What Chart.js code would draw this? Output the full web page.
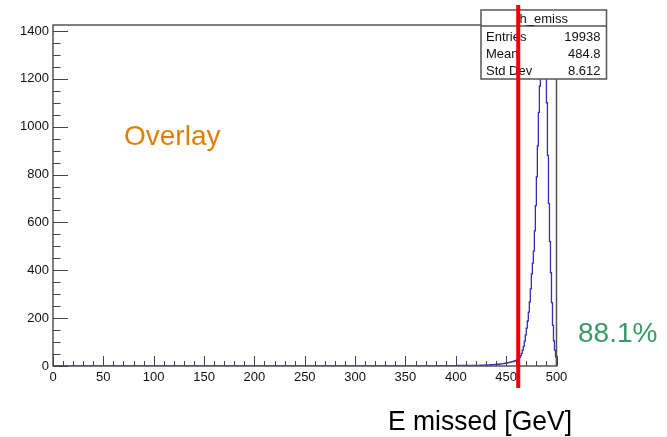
<!DOCTYPE html>
<html>
<head>
<meta charset="utf-8">
<script src="https://cdn.jsdelivr.net/npm/chart.js@4/dist/chart.umd.min.js"></script>
<style>
  html, body { margin: 0; padding: 0; background: #ffffff; }
  canvas { display: block; }
</style>
</head>
<body>
<canvas id="c" width="667" height="437"></canvas>
<script>
// h_emiss: missing energy histogram, 1 GeV bins from 0 to 500 GeV
const X_MIN = 0;
const X_MAX = 500;
const BIN_WIDTH = 1;
const Y_MIN = 0;
const Y_MAX = 1425;

const xTickValues = [0, 50, 100, 150, 200, 250, 300, 350, 400, 450, 500];
const yTickValues = [0, 200, 400, 600, 800, 1000, 1200, 1400];
const X_MINOR_STEP = 10;
const Y_MINOR_STEP = 50;

// Bins below this edge are empty
const FIRST_FILLED_BIN = 380;
// Counts of bins 380 ... 499
const binCounts = [
  0, 1, 0, 0, 1, 0, 1, 0, 0, 1, 1, 0, 1, 0, 1, 1, 0, 1, 1, 1,
  1, 1, 2, 1, 1, 2, 1, 2, 1, 2, 2, 1, 2, 2, 3, 2, 2, 3, 2, 3,
  3, 3, 2, 3, 4, 3, 4, 3, 4, 4, 5, 4, 5, 5, 4, 6, 5, 6, 6, 7,
  7, 8, 7, 8, 9, 9, 10, 10, 11, 12, 12, 13, 14, 15, 16, 17, 18, 19, 21, 22,
  24, 27, 31, 36, 43, 53, 66, 82, 104, 130,
  158, 188, 225, 268, 322, 385, 430, 480, 565, 670,
  790, 920, 1060, 1170, 1250, 1310, 1345, 1357, 1325, 1240,
  1100, 880, 680, 520, 390, 265, 170, 105, 66, 38
];

// Selection cut on the missing energy
const cutValue = 462;

const histName = 'h_emiss';
const statsLabels = ['Entries', 'Mean', 'Std Dev'];
const statsValues = ['19938', '484.8', '8.612'];
const overlayLabel = 'Overlay';
const efficiencyLabel = '88.1%';
const axisTitle = 'E missed [GeV]';

const FONT = '"Liberation Sans", Arial, Helvetica, sans-serif';

// Histogram outline points at the low edge of every bin, closed at the upper edge
const histPoints = [];
for (let b = X_MIN; b < X_MAX; b += BIN_WIDTH) {
  const idx = Math.round((b - FIRST_FILLED_BIN) / BIN_WIDTH);
  histPoints.push({ x: b, y: idx >= 0 ? binCounts[idx] : 0 });
}
histPoints.push({ x: X_MAX, y: 0 });

// ROOT-like frame, inward ticks, stats box, cut line and labels
const rootDecor = {
  id: 'rootDecor',
  afterDraw(chart) {
    const ctx = chart.ctx;
    const a = chart.chartArea;
    const xs = chart.scales.x;
    const ys = chart.scales.y;

    ctx.save();
    // frame
    ctx.strokeStyle = '#555555';
    ctx.lineWidth = 1.5;
    ctx.beginPath();
    ctx.rect(a.left, a.top, a.right - a.left, a.bottom - a.top);
    ctx.stroke();

    // x ticks (pointing up)
    ctx.lineWidth = 1;
    ctx.strokeStyle = '#444444';
    ctx.beginPath();
    for (let v = X_MIN; v <= X_MAX; v += X_MINOR_STEP) {
      const px = Math.round(xs.getPixelForValue(v)) + 0.5;
      const len = xTickValues.includes(v) ? 10 : 5;
      ctx.moveTo(px, a.bottom);
      ctx.lineTo(px, a.bottom - len);
    }
    // y ticks (pointing right)
    for (let v = Y_MIN; v <= Y_MAX; v += Y_MINOR_STEP) {
      const py = Math.round(ys.getPixelForValue(v)) + 0.5;
      const len = yTickValues.includes(v) ? 15 : 7.5;
      ctx.moveTo(a.left, py);
      ctx.lineTo(a.left + len, py);
    }
    ctx.stroke();

    // stats box
    const bx = a.right - 75.5, by = a.top - 15, bw = 125.5, bh = 69;
    ctx.fillStyle = '#ffffff';
    ctx.fillRect(bx, by, bw, bh);
    ctx.strokeStyle = '#555555';
    ctx.lineWidth = 1.5;
    ctx.strokeRect(bx, by, bw, bh);
    ctx.beginPath();
    ctx.moveTo(bx, by + 16);
    ctx.lineTo(bx + bw, by + 16);
    ctx.stroke();

    ctx.fillStyle = '#111111';
    ctx.font = '13px ' + FONT;
    ctx.textBaseline = 'alphabetic';
    ctx.textAlign = 'center';
    ctx.fillText(histName, bx + bw / 2, by + 13);
    for (let i = 0; i < statsLabels.length; i++) {
      const yy = by + 31 + i * 17;
      ctx.textAlign = 'left';
      ctx.fillText(statsLabels[i], bx + 5, yy);
      ctx.textAlign = 'right';
      ctx.fillText(statsValues[i], bx + bw - 6, yy);
    }

    // cut line
    const cx = xs.getPixelForValue(cutValue);
    ctx.strokeStyle = '#f20000';
    ctx.lineWidth = 4;
    ctx.beginPath();
    ctx.moveTo(cx, a.top - 20);
    ctx.lineTo(cx, a.bottom + 22);
    ctx.stroke();

    // labels
    ctx.font = '28px ' + FONT;
    ctx.textAlign = 'left';
    ctx.fillStyle = '#e08000';
    ctx.fillText(overlayLabel, 124, 145);
    ctx.fillStyle = '#3a9a66';
    ctx.fillText(efficiencyLabel, 578, 342);

    // axis title, slightly condensed
    ctx.fillStyle = '#000000';
    const w = ctx.measureText(axisTitle).width;
    const targetW = 184;
    ctx.translate(388, 430);
    ctx.scale(targetW / w, 1);
    ctx.fillText(axisTitle, 0, 0);
    ctx.restore();
  }
};

new Chart(document.getElementById('c'), {
  type: 'line',
  data: {
    datasets: [{
      label: histName,
      data: histPoints,
      stepped: 'before',
      borderColor: '#3030b0',
      borderWidth: 1.3,
      pointRadius: 0,
      fill: false,
      tension: 0
    }]
  },
  options: {
    responsive: false,
    devicePixelRatio: 1,
    animation: false,
    events: [],
    layout: { padding: { top: 25, right: 110.5, bottom: 0, left: 0 } },
    plugins: {
      legend: { display: false },
      tooltip: { enabled: false },
      title: { display: false }
    },
    scales: {
      x: {
        type: 'linear',
        min: X_MIN,
        max: X_MAX,
        grid: { display: false, drawTicks: false },
        border: { display: false },
        afterBuildTicks: (s) => { s.ticks = xTickValues.map(v => ({ value: v })); },
        afterFit: (s) => { s.height = 71; },
        ticks: {
          font: { family: FONT, size: 13 },
          color: '#111111',
          padding: 4,
          maxRotation: 0,
          autoSkip: false,
          callback: (v) => String(v)
        }
      },
      y: {
        type: 'linear',
        min: Y_MIN,
        max: Y_MAX,
        grid: { display: false, drawTicks: false },
        border: { display: false },
        afterBuildTicks: (s) => { s.ticks = yTickValues.map(v => ({ value: v })); },
        afterFit: (s) => { s.width = 53; },
        ticks: {
          font: { family: FONT, size: 13 },
          color: '#111111',
          padding: 4,
          autoSkip: false,
          callback: (v) => String(v)
        }
      }
    }
  },
  plugins: [rootDecor]
});
</script>
</body>
</html>
